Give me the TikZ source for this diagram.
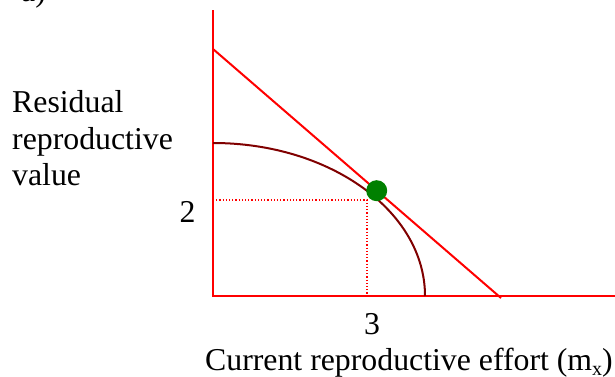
\documentclass[tikz,border=0pt]{standalone}
\usepackage{fontspec}
\setmainfont{Liberation Serif}
\begin{document}
\begin{tikzpicture}[x=1pt,y=1pt,
  lbl/.style={inner sep=0pt,font=\fontsize{31.8}{36.5}\selectfont},
  axisline/.style={draw=red,line width=2pt},
  guide/.style={draw=red,line width=1.2pt,dotted}]
\definecolor{curvecol}{RGB}{128,0,0}
\definecolor{dotgreen}{RGB}{0,128,0}
\useasboundingbox (0,0) rectangle (615,377);
% coordinates
\coordinate (O) at (213,81);
\coordinate (ytop) at (213,367);
\coordinate (xend) at (615,81);
\coordinate (lstart) at (213,328);
\coordinate (lend) at (501,79);
\coordinate (cstart) at (213,234);
\coordinate (hy) at (213,177);
\coordinate (corner) at (367,177);
\coordinate (hx) at (367,81);
% axes
\draw[axisline] (O) -- (ytop);
\draw[axisline] ([xshift=-1pt]O) -- (xend);
% tangent line
\draw[red,line width=2pt] (lstart) -- (lend);
% curve
\draw[curvecol,line width=2pt] (cstart) arc[start angle=90,end angle=0,x radius=212,y radius=153];
% dotted guides
\draw[guide] (hy) -- (corner) -- (hx);
% dot
\node[circle,fill=dotgreen,minimum size=21pt,inner sep=0pt] (dot) at (376.7,186.3) {};
% labels
\node[lbl,anchor=base west] (a) at (21,375) {a)};
\node[lbl,anchor=base west,align=left] (ylab) at (12,191) {Residual\\reproductive\\value};
\node[lbl,anchor=base] (two) at (187.5,154) {2};
\node[lbl,anchor=base] (three) at (372,42) {3};
\node[lbl,anchor=base east] (xlab) at (613,6) {Current reproductive effort (m\raisebox{-0.15em}{\fontsize{20}{20}\selectfont x})};
\end{tikzpicture}
\end{document}
